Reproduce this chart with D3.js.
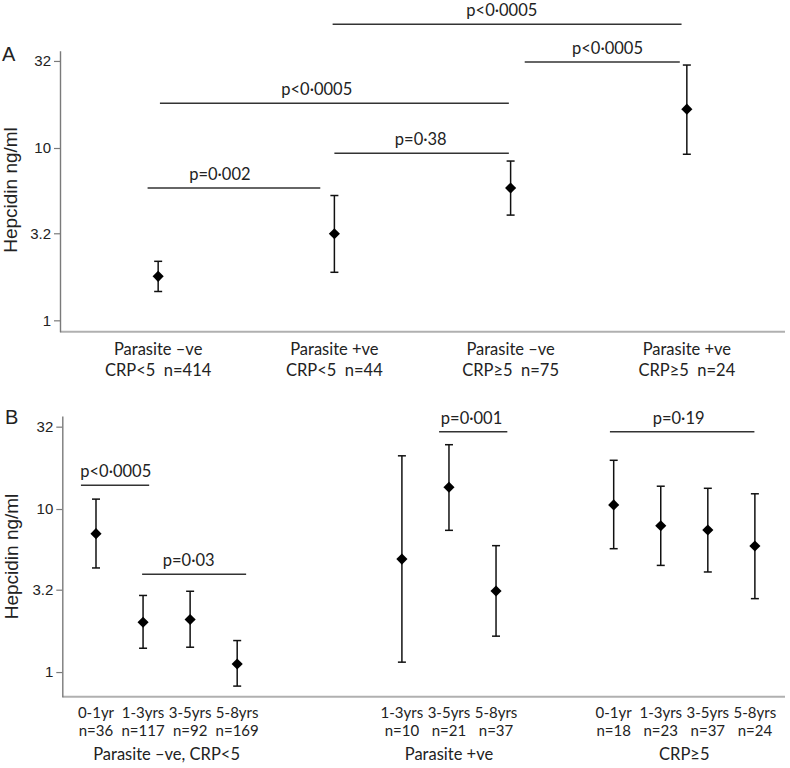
<!DOCTYPE html>
<html>
<head>
<meta charset="utf-8">
<script src="https://cdn.jsdelivr.net/npm/d3@7"></script>
<style>
  html, body { margin: 0; padding: 0; background: #fff; }
  svg { display: block; }
</style>
</head>
<body>
<div id="chart"></div>
<script>
// ---------------- DATA ----------------
// Panel A
const catsALine1 = ["Parasite \u2013ve", "Parasite +ve", "Parasite \u2013ve", "Parasite +ve"];
const catsALine2 = ["CRP<5  n=414", "CRP<5  n=44", "CRP\u22655  n=75", "CRP\u22655  n=24"];
const medianA = [1.80, 3.18, 5.86, 16.8];
const lowerA  = [1.47, 1.90, 4.08, 9.2];
const upperA  = [2.20, 5.30, 8.40, 30.3];

// Panel A significance brackets (category units, hepcidin units)
const pLabelA = ["p=0\u00b7002", "p<0\u00b70005", "p=0\u00b738", "p<0\u00b70005", "p<0\u00b70005"];
const pFromA  = [-0.06, 0.01, 1.00, 0.99, 2.08];
const pToA    = [0.92, 1.99, 1.99, 2.97, 2.96];
const pLevelA = [5.86, 18.2, 9.31, 52.2, 31.6];
const pTextA  = [0.35, 0.90, 1.49, 1.95, 2.55];

// Panel B
const ageLabels = ["0-1yr", "1-3yrs", "3-5yrs", "5-8yrs"];
const groupLabels = ["Parasite \u2013ve, CRP<5", "Parasite +ve", "CRP\u22655"];
const groupAges = [[0, 1, 2, 3], [1, 2, 3], [0, 1, 2, 3]];
const nB      = [[36, 117, 92, 169], [10, 21, 37], [18, 23, 37, 24]];
const medianB = [[7.06, 2.02, 2.10, 1.12], [4.93, 13.6, 3.14], [10.6, 7.90, 7.43, 5.93]];
const lowerB  = [[4.35, 1.40, 1.42, 0.82], [1.15, 7.40, 1.66], [5.71, 4.51, 4.11, 2.82]];
const upperB  = [[11.5, 2.95, 3.13, 1.56], [21.2, 24.8, 5.96], [19.9, 13.8, 13.4, 12.4]];

// Panel B significance brackets (slot units, hepcidin units)
const pLabelB = ["p<0\u00b70005", "p=0\u00b703", "p=0\u00b7001", "p=0\u00b719"];
const pFromB  = [-0.32, 0.98, 7.29, 10.92];
const pToB    = [1.13, 3.19, 8.74, 13.99];
const pLevelB = [14.0, 3.98, 29.8, 29.8];
const pTextB  = [0.42, 1.97, 7.98, 12.38];

// Y axis ticks
const yTicks = [1, 3.2, 10, 32];
const yTickLabels = ["1", "3.2", "10", "32"];
const yTitle = "Hepcidin ng/ml";
const panelLetters = ["A", "B"];

// ---------------- DRAW ----------------
const W = 790, H = 768;
const svg = d3.select("#chart").append("svg").attr("width", W).attr("height", H);

const armFont = "'Liberation Sans', Arial, Helvetica, sans-serif";
const calFont = "Lato, 'Open Sans', sans-serif";
const groupSpacing = 5.5;

function drawYAxis(g, y, x0) {
  const ax = g.append("g").attr("transform", `translate(${x0},0)`)
    .call(d3.axisLeft(y).tickValues(yTicks).tickFormat((d, i) => yTickLabels[i])
      .tickSize(6).tickSizeOuter(0).tickPadding(3));
  ax.select(".domain").attr("stroke", "#7a7a7a").attr("stroke-width", 1.4);
  ax.selectAll(".tick line").attr("stroke", "#7a7a7a").attr("stroke-width", 1.2);
  ax.selectAll(".tick text").attr("font-family", armFont).attr("font-size", 15).attr("fill", "#222");
}

function drawPoints(g, xs, ys, med, lo, hi) {
  const cap = 4;
  const grp = g.append("g");
  med.forEach((m, i) => {
    const x = xs[i];
    grp.append("line").attr("x1", x).attr("x2", x).attr("y1", ys(lo[i])).attr("y2", ys(hi[i]))
      .attr("stroke", "#111").attr("stroke-width", 1.5);
    [lo[i], hi[i]].forEach(v => {
      grp.append("line").attr("x1", x - cap).attr("x2", x + cap).attr("y1", ys(v)).attr("y2", ys(v))
        .attr("stroke", "#111").attr("stroke-width", 1.5);
    });
    grp.append("path").attr("d", d3.symbol(d3.symbolSquare, 62)())
      .attr("transform", `translate(${x},${ys(m)}) rotate(45)`).attr("fill", "#000");
  });
}

function drawBrackets(g, x, y, labels, from, to, level, tx) {
  labels.forEach((lab, i) => {
    const yy = y(level[i]);
    g.append("line").attr("x1", x(from[i])).attr("x2", x(to[i])).attr("y1", yy).attr("y2", yy)
      .attr("stroke", "#333").attr("stroke-width", 1.5);
    g.append("text").attr("x", x(tx[i])).attr("y", yy - 8).attr("text-anchor", "middle")
      .attr("font-family", calFont).attr("font-size", 16.5).attr("fill", "#222").text(lab);
  });
}

// ----- Panel A -----
const gA = svg.append("g");
const xA = d3.scaleLinear().domain([-0.557, 3.557]).range([60, 785]);
const yA = d3.scaleLog().domain([0.859, 36.7]).range([331.7, 50.7]);

gA.append("line").attr("x1", xA.range()[0]).attr("x2", xA.range()[1])
  .attr("y1", yA.range()[0]).attr("y2", yA.range()[0])
  .attr("stroke", "#b0b0b0").attr("stroke-width", 2);
drawYAxis(gA, yA, xA.range()[0]);
drawBrackets(gA, xA, yA, pLabelA, pFromA, pToA, pLevelA, pTextA);
drawPoints(gA, medianA.map((d, i) => xA(i)), yA, medianA, lowerA, upperA);

catsALine1.forEach((c, i) => {
  gA.append("text").attr("x", xA(i)).attr("y", 355).attr("text-anchor", "middle")
    .attr("font-family", calFont).attr("font-size", 16.5).attr("fill", "#222").text(c);
  gA.append("text").attr("x", xA(i)).attr("y", 376).attr("text-anchor", "middle")
    .attr("font-family", calFont).attr("font-size", 16.5).attr("fill", "#222")
    .attr("xml:space", "preserve").style("white-space", "pre").text(catsALine2[i]);
});

gA.append("text").attr("transform", `translate(17,190) rotate(-90)`)
  .attr("text-anchor", "middle").attr("font-family", armFont).attr("font-size", 19).attr("fill", "#222")
  .text(yTitle);
gA.append("text").attr("x", 2).attr("y", 61).attr("font-family", armFont).attr("font-size", 20)
  .attr("fill", "#222").text(panelLetters[0]);

// ----- Panel B -----
const gB = svg.append("g");
const xB = d3.scaleLinear().domain([-0.716, 14.64]).range([62.3, 785]);
const yB = d3.scaleLog().domain([0.706, 37.2]).range([696.7, 416]);

gB.append("line").attr("x1", xB.range()[0]).attr("x2", xB.range()[1])
  .attr("y1", yB.range()[0]).attr("y2", yB.range()[0])
  .attr("stroke", "#b0b0b0").attr("stroke-width", 2);
drawYAxis(gB, yB, xB.range()[0]);
drawBrackets(gB, xB, yB, pLabelB, pFromB, pToB, pLevelB, pTextB);

groupAges.forEach((ages, g) => {
  const xs = ages.map(a => xB(g * groupSpacing + a));
  drawPoints(gB, xs, yB, medianB[g], lowerB[g], upperB[g]);
  ages.forEach((a, j) => {
    gB.append("text").attr("x", xs[j]).attr("y", 717.5).attr("text-anchor", "middle")
      .attr("font-family", calFont).attr("font-size", 15).attr("fill", "#222").text(ageLabels[a]);
    gB.append("text").attr("x", xs[j]).attr("y", 735.5).attr("text-anchor", "middle")
      .attr("font-family", calFont).attr("font-size", 15).attr("fill", "#222").text("n=" + nB[g][j]);
  });
  const mid = xB(g * groupSpacing + (ages[0] + ages[ages.length - 1]) / 2);
  gB.append("text").attr("x", mid).attr("y", 760).attr("text-anchor", "middle")
    .attr("font-family", calFont).attr("font-size", 16.5).attr("fill", "#222").text(groupLabels[g]);
});

gB.append("text").attr("transform", `translate(17.5,556.5) rotate(-90)`)
  .attr("text-anchor", "middle").attr("font-family", armFont).attr("font-size", 19).attr("fill", "#222")
  .text(yTitle);
gB.append("text").attr("x", 5).attr("y", 424).attr("font-family", armFont).attr("font-size", 20)
  .attr("fill", "#222").text(panelLetters[1]);
</script>
</body>
</html>
